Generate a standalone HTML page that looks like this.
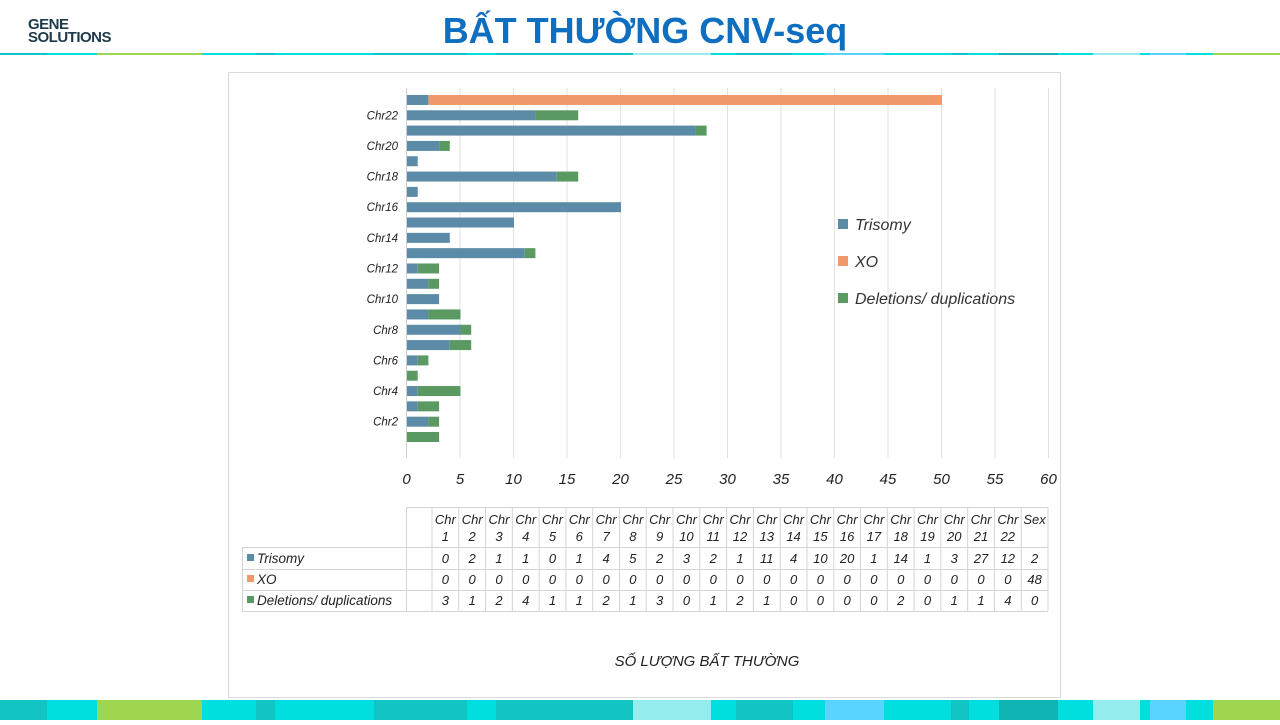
<!DOCTYPE html>
<html><head><meta charset="utf-8"><style>
body{margin:0;width:1280px;height:720px;overflow:hidden;background:#fff;font-family:"Liberation Sans",sans-serif}
svg text{font-family:"Liberation Sans",sans-serif}
</style></head><body>
<svg id="s" width="1280" height="720" xmlns="http://www.w3.org/2000/svg">
<text x="28" y="29" font-size="15" font-weight="bold" fill="#1d3a4a" letter-spacing="-0.5">GENE</text>
<text x="28" y="42" font-size="15" font-weight="bold" fill="#1d3a4a" letter-spacing="-0.5">SOLUTIONS</text>
<text x="645" y="43" font-size="36" font-weight="bold" fill="#0e6fc1" text-anchor="middle">BẤT THƯỜNG CNV-seq</text>
<rect x="228.5" y="72.5" width="832" height="625" fill="#fff" stroke="#d9d9d9"/>
<text x="707" y="666" font-size="15" font-style="italic" fill="#222" text-anchor="middle">SỐ LƯỢNG BẤT THƯỜNG</text>
</svg>
<script>
const s=document.getElementById('s');const NS='http://www.w3.org/2000/svg';
function el(t,a,txt){const e=document.createElementNS(NS,t);for(const k in a)e.setAttribute(k,a[k]);if(txt!=null)e.textContent=txt;s.appendChild(e);return e;}
// strips
const segs=[[0,47,'#12c4c4'],[47,97,'#00dede'],[97,202,'#9ed64f'],[202,256,'#00dede'],[256,275,'#12c4c4'],[275,374,'#00dede'],[374,467,'#12c4c4'],[467,496,'#00dede'],[496,633,'#12c4c4'],[633,711,'#94ecec'],[711,736,'#00dede'],[736,793,'#12c4c4'],[793,825,'#00dede'],[825,884,'#5ad4fe'],[884,951,'#00dede'],[951,969,'#12c4c4'],[969,999,'#00dede'],[999,1058,'#10b4b4'],[1058,1093,'#00dede'],[1093,1140,'#94ecec'],[1140,1150,'#00dede'],[1150,1186,'#5ad4fe'],[1186,1213,'#00dede'],[1213,1280,'#9ed64f']];
segs.forEach(g=>{el('rect',{x:g[0],y:700,width:g[1]-g[0],height:20,fill:g[2]});el('rect',{x:g[0],y:53,width:g[1]-g[0],height:2,fill:g[2]});});
const X0=406.5,U=10.7;
for(let v=0;v<=60;v+=5){const x=X0+v*U;el('line',{x1:x,y1:88,x2:x,y2:458,stroke:v?'#e2e2e2':'#cfcfcf'});el('text',{x:x,y:484,'font-size':15,'font-style':'italic',fill:'#222','text-anchor':'middle'},v);}
const tri=[0,2,1,1,0,1,4,5,2,3,2,1,11,4,10,20,1,14,1,3,27,12,2];
const xo=[0,0,0,0,0,0,0,0,0,0,0,0,0,0,0,0,0,0,0,0,0,0,48];
const del=[3,1,2,4,1,1,2,1,3,0,1,2,1,0,0,0,0,2,0,1,1,4,0];
const C1='#5b8ba6',C2='#f0996c',C3='#5a9a62';
for(let i=0;i<23;i++){const yc=437-i*15.32;let x=X0+0.5;
[[tri[i],C1],[xo[i],C2],[del[i],C3]].forEach(p=>{if(p[0]){el('rect',{x:x,y:yc-5,width:p[0]*U,height:10,fill:p[1]});x+=p[0]*U;}});
if(i%2==1)el('text',{x:398,y:yc+4,'font-size':11.5,'font-style':'italic',fill:'#222','text-anchor':'end'},'Chr'+(i+1));}
// legend
[['Trisomy',C1,224],['XO',C2,261],['Deletions/ duplications',C3,298]].forEach(l=>{el('rect',{x:838,y:l[2]-5,width:10,height:10,fill:l[1]});el('text',{x:855,y:l[2]+6,'font-size':16,'font-style':'italic',fill:'#333'},l[0]);});
// table
const tx0=432,cw=(1048-432)/23;const ys=[507,547,569,590,611];
const g='#d4d4d4';
ys.forEach((y,k)=>el('line',{x1:k==0?406:242,y1:y+.5,x2:1048,y2:y+.5,stroke:g}));
el('line',{x1:242.5,y1:547,x2:242.5,y2:611,stroke:g});el('line',{x1:406.5,y1:507,x2:406.5,y2:611,stroke:g});
for(let j=0;j<=23;j++){const x=tx0+j*cw;el('line',{x1:x,y1:507,x2:x,y2:611,stroke:g});}
for(let j=0;j<23;j++){const cx=tx0+j*cw+cw/2;
if(j<22){el('text',{x:cx,y:524,'font-size':13,'font-style':'italic',fill:'#222','text-anchor':'middle'},'Chr');el('text',{x:cx,y:541,'font-size':13,'font-style':'italic',fill:'#222','text-anchor':'middle'},j+1);}
else el('text',{x:cx,y:524,'font-size':13,'font-style':'italic',fill:'#222','text-anchor':'middle'},'Sex');
[tri,xo,del].forEach((arr,r)=>el('text',{x:cx,y:[563,584,605][r],'font-size':13,'font-style':'italic',fill:'#222','text-anchor':'middle'},arr[j]));}
[['Trisomy',C1,558],['XO',C2,579],['Deletions/ duplications',C3,600]].forEach(l=>{el('rect',{x:247,y:l[2]-4,width:7,height:7,fill:l[1]});el('text',{x:257,y:l[2]+5,'font-size':13.5,'font-style':'italic',fill:'#222'},l[0]);});
</script>
</body></html>
